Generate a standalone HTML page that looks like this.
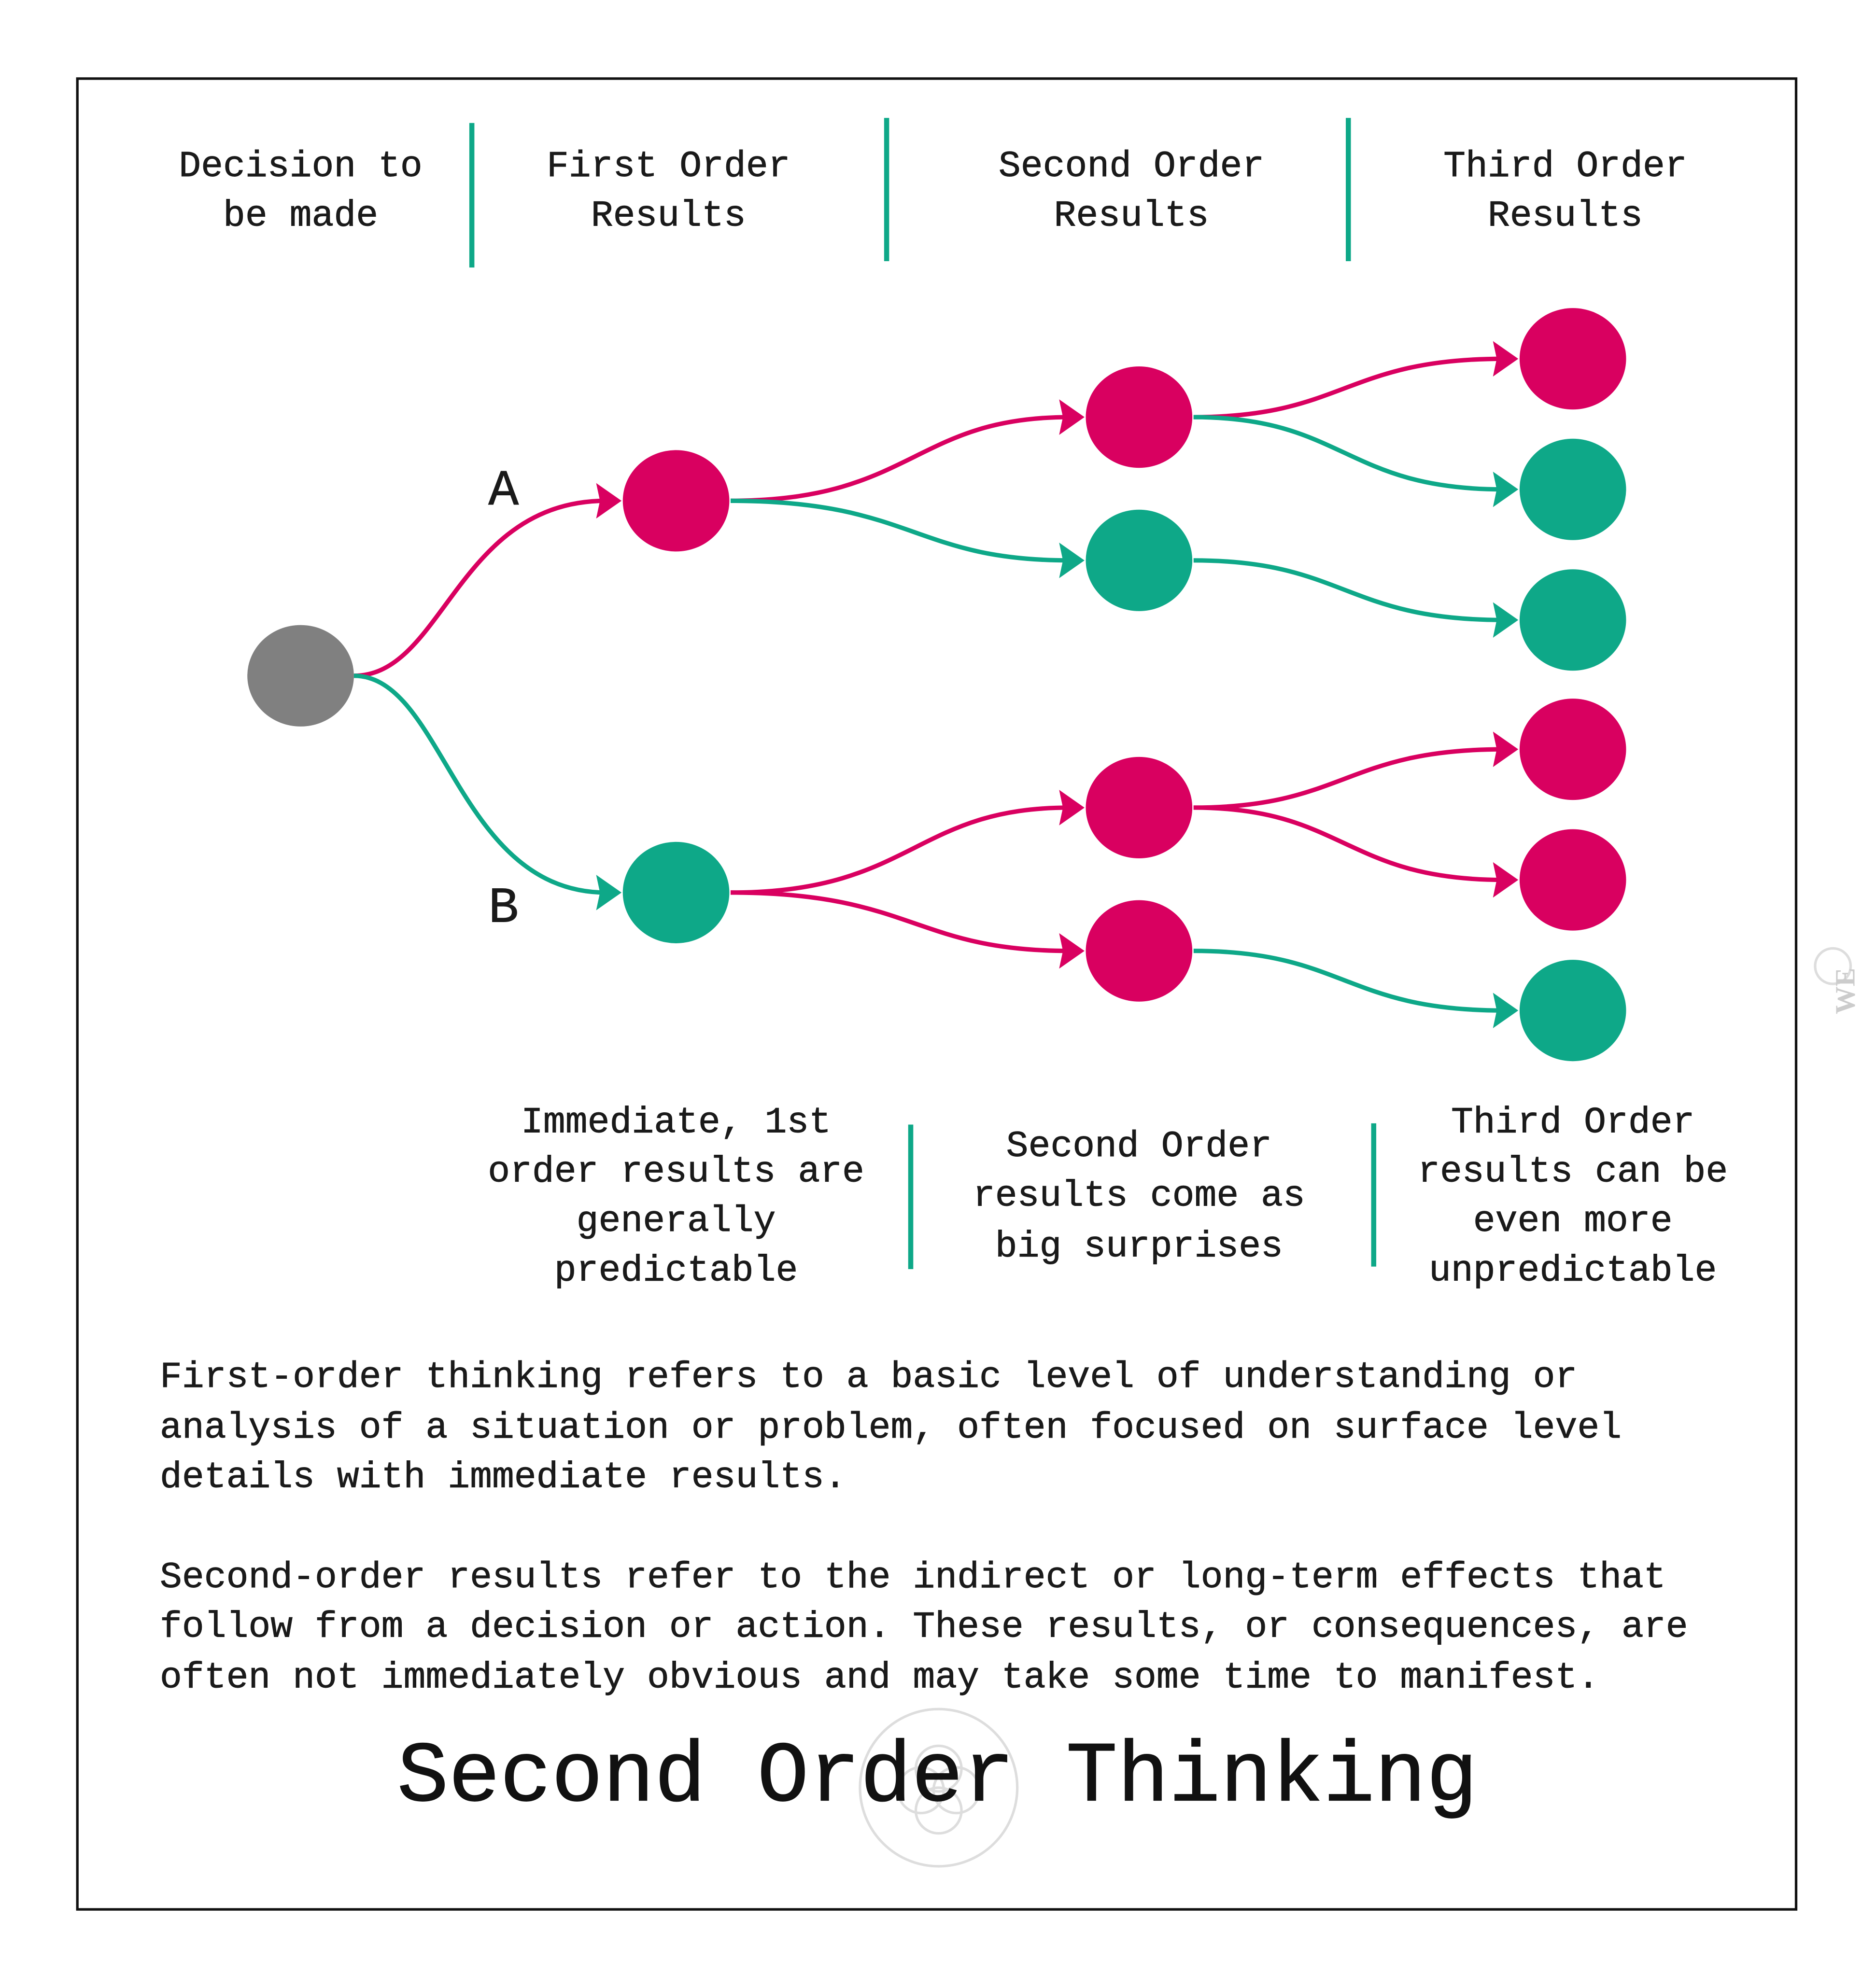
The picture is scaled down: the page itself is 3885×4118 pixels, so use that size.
<!DOCTYPE html>
<html><head><meta charset="utf-8"><style>
html,body{margin:0;padding:0;background:#fff;}
svg{display:block;}
text{font-family:"Liberation Mono",monospace;fill:#1a1a1a;stroke:#1a1a1a;stroke-width:0.35;}
</style></head><body>
<svg width="3885" height="4118" viewBox="0 0 1479 1568" preserveAspectRatio="none" xmlns="http://www.w3.org/2000/svg">
<rect x="0" y="0" width="1479" height="1568" fill="#fff"/>
<rect x="61" y="62" width="1355" height="1444" fill="none" stroke="#111" stroke-width="2"/>
<g font-size="29.1" text-anchor="middle">
<text x="237" y="139">Decision to</text><text x="237" y="178">be made</text>
<text x="527" y="139">First Order</text><text x="527" y="178">Results</text>
<text x="892" y="139">Second Order</text><text x="892" y="178">Results</text>
<text x="1234" y="139">Third Order</text><text x="1234" y="178">Results</text>
</g>
<g stroke="#0ea888" stroke-width="4">
<line x1="372" y1="97" x2="372" y2="211"/><line x1="699" y1="93" x2="699" y2="206"/><line x1="1063" y1="93" x2="1063" y2="206"/>
<line x1="718" y1="887" x2="718" y2="1001"/><line x1="1083" y1="886" x2="1083" y2="999"/>
</g>
<g fill="none" stroke-width="3.5">
<path d="M279 533 C350 533 360 395 478 395" stroke="#d90060"/>
<path d="M279 533 C350 533 360 704 478 704" stroke="#0ea888"/>
<path d="M576 395 C720 395 720 329 843 329" stroke="#d90060"/>
<path d="M576 395 C720 395 720 442 843 442" stroke="#0ea888"/>
<path d="M576 704 C720 704 720 637 843 637" stroke="#d90060"/>
<path d="M576 704 C720 704 720 750 843 750" stroke="#d90060"/>
<path d="M941 329 C1060 329 1060 283 1185 283" stroke="#d90060"/>
<path d="M941 329 C1060 329 1060 386 1185 386" stroke="#0ea888"/>
<path d="M941 442 C1060 442 1060 489 1185 489" stroke="#0ea888"/>
<path d="M941 637 C1060 637 1060 591 1185 591" stroke="#d90060"/>
<path d="M941 637 C1060 637 1060 694 1185 694" stroke="#d90060"/>
<path d="M941 750 C1060 750 1060 797 1185 797" stroke="#0ea888"/>
</g>
<g>
<path d="M490 395 l-20 -14 l3 14 l-3 14 z" fill="#d90060"/>
<path d="M490 704 l-20 -14 l3 14 l-3 14 z" fill="#0ea888"/>
<path d="M855 329 l-20 -14 l3 14 l-3 14 z" fill="#d90060"/>
<path d="M855 442 l-20 -14 l3 14 l-3 14 z" fill="#0ea888"/>
<path d="M855 637 l-20 -14 l3 14 l-3 14 z" fill="#d90060"/>
<path d="M855 750 l-20 -14 l3 14 l-3 14 z" fill="#d90060"/>
<path d="M1197 283 l-20 -14 l3 14 l-3 14 z" fill="#d90060"/>
<path d="M1197 386 l-20 -14 l3 14 l-3 14 z" fill="#0ea888"/>
<path d="M1197 489 l-20 -14 l3 14 l-3 14 z" fill="#0ea888"/>
<path d="M1197 591 l-20 -14 l3 14 l-3 14 z" fill="#d90060"/>
<path d="M1197 694 l-20 -14 l3 14 l-3 14 z" fill="#d90060"/>
<path d="M1197 797 l-20 -14 l3 14 l-3 14 z" fill="#0ea888"/>
</g>
<ellipse cx="237" cy="533" rx="42" ry="40" fill="#808080"/>
<ellipse cx="533" cy="395" rx="42" ry="40" fill="#d90060"/>
<ellipse cx="533" cy="704" rx="42" ry="40" fill="#0ea888"/>
<ellipse cx="898" cy="329" rx="42" ry="40" fill="#d90060"/>
<ellipse cx="898" cy="442" rx="42" ry="40" fill="#0ea888"/>
<ellipse cx="898" cy="637" rx="42" ry="40" fill="#d90060"/>
<ellipse cx="898" cy="750" rx="42" ry="40" fill="#d90060"/>
<ellipse cx="1240" cy="283" rx="42" ry="40" fill="#d90060"/>
<ellipse cx="1240" cy="386" rx="42" ry="40" fill="#0ea888"/>
<ellipse cx="1240" cy="489" rx="42" ry="40" fill="#0ea888"/>
<ellipse cx="1240" cy="591" rx="42" ry="40" fill="#d90060"/>
<ellipse cx="1240" cy="694" rx="42" ry="40" fill="#d90060"/>
<ellipse cx="1240" cy="797" rx="42" ry="40" fill="#0ea888"/>
<g font-size="40" text-anchor="middle">
<text x="397" y="398">A</text><text x="397" y="727">B</text>
</g>
<g font-size="29.1" text-anchor="middle">
<text x="533" y="893">Immediate, 1st</text><text x="533" y="932">order results are</text><text x="533" y="971">generally</text><text x="533" y="1010">predictable</text>
<text x="898" y="912">Second Order</text><text x="898" y="951">results come as</text><text x="898" y="991">big surprises</text>
<text x="1240" y="893">Third Order</text><text x="1240" y="932">results can be</text><text x="1240" y="971">even more</text><text x="1240" y="1010">unpredictable</text>
</g>
<g font-size="29.1">
<text x="126" y="1094">First-order thinking refers to a basic level of understanding or</text>
<text x="126" y="1134">analysis of a situation or problem, often focused on surface level</text>
<text x="126" y="1173">details with immediate results.</text>
<text x="126" y="1252">Second-order results refer to the indirect or long-term effects that</text>
<text x="126" y="1291">follow from a decision or action. These results, or consequences, are</text>
<text x="126" y="1331">often not immediately obvious and may take some time to manifest.</text>
</g>
<g fill="none" stroke="#ddd" stroke-width="2">
<circle cx="740" cy="1410" r="62"/>
<circle cx="740" cy="1395" r="18"/><circle cx="726" cy="1412" r="18"/><circle cx="754" cy="1412" r="18"/><circle cx="740" cy="1428" r="18"/>
<circle cx="1445" cy="762" r="14"/>
</g>
<text x="1444" y="818" font-size="22" font-weight="bold" transform="rotate(-90 1444 800)" style="fill:#ccc;stroke:none;font-family:'Liberation Serif',serif">WE</text>
<text x="739" y="1420" font-size="67.6" text-anchor="middle" style="fill:#111;stroke:#111;stroke-width:0.6">Second Order Thinking</text>
</svg>
</body></html>
